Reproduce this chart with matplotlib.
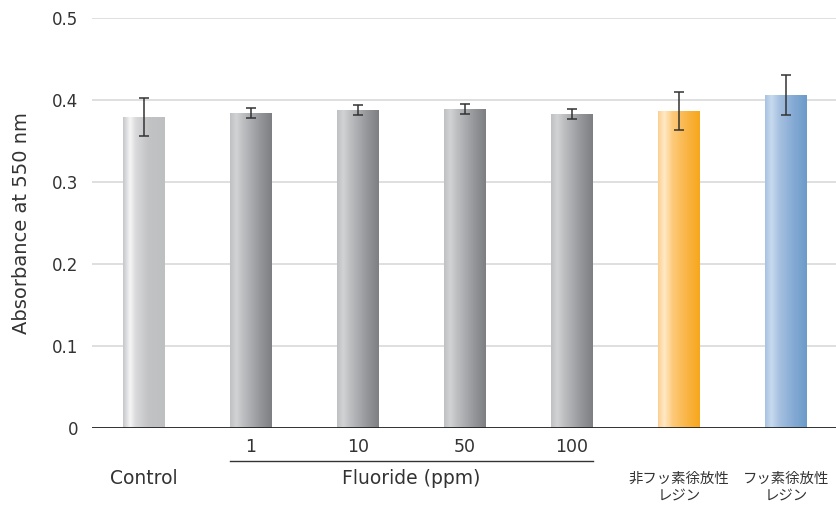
import matplotlib
matplotlib.use("Agg")
import matplotlib.pyplot as plt
import numpy as np
from matplotlib.colors import LinearSegmentedColormap

plt.rcParams['font.family'] = ['DejaVu Sans', 'Noto Sans CJK JP']

categories = ["Control", "1", "10", "50", "100", "非フッ素徐放性\nレジン", "フッ素徐放性\nレジン"]
values = [0.379, 0.384, 0.388, 0.389, 0.383, 0.387, 0.406]
errors = [0.023, 0.006, 0.006, 0.006, 0.006, 0.023, 0.024]
yticks = [0, 0.1, 0.2, 0.3, 0.4, 0.5]
ytick_labels = ["0", "0.1", "0.2", "0.3", "0.4", "0.5"]
group_label = "Fluoride (ppm)"
ylabel = "Absorbance at 550 nm"

# gradient stops (position, color) per bar style
grad_control = [(0, "#c6c7c9"), (0.08, "#dcdcde"), (0.17, "#f6f6f6"), (0.3, "#dadadc"), (0.6, "#c2c3c5"), (1, "#bebfc1")]
grad_gray = [(0, "#bfc0c2"), (0.15, "#d2d3d5"), (0.3, "#bfc0c2"), (0.7, "#97989c"), (1, "#7e7f83")]
grad_orange = [(0, "#fccf92"), (0.15, "#ffe9c6"), (0.35, "#fdc97a"), (0.7, "#f9b443"), (1, "#f6a71c")]
grad_blue = [(0, "#a9c2e1"), (0.15, "#c8daef"), (0.35, "#a5c0e0"), (0.7, "#83a9d3"), (1, "#6b9bc9")]
styles = [grad_control, grad_gray, grad_gray, grad_gray, grad_gray, grad_orange, grad_blue]

W, H = 836, 509
fig = plt.figure(figsize=(W / 100, H / 100), dpi=100)
ax = fig.add_axes([92 / W, (H - 428) / H, (836 - 92) / W, (428 - 18) / H])

x = np.arange(len(categories))
width = 0.39
ax.set_xlim(-0.486, 6.467)
ax.set_ylim(0, 0.5)

for t in yticks[1:]:
    ax.axhline(t, color="#dcdcdc", lw=1.3, zorder=0)

bars = ax.bar(x, values, width=width, color="none", edgecolor="none", zorder=2)
grad = np.linspace(0, 1, 256).reshape(1, -1)
for b, st in zip(bars, styles):
    cmap = LinearSegmentedColormap.from_list("g", st)
    x0, w, h = b.get_x(), b.get_width(), b.get_height()
    im = ax.imshow(grad, cmap=cmap, aspect="auto", extent=[x0, x0 + w, 0, h], zorder=2,
                   interpolation="bilinear")
    im.set_clip_path(b)

ax.errorbar(x, values, yerr=errors, fmt="none", ecolor="#333333", elinewidth=1.1,
            capsize=3.5, capthick=1.1, zorder=3)

ax.axhline(0, color="#222222", lw=1.3, zorder=4)

for s in ax.spines.values():
    s.set_visible(False)
ax.set_yticks(yticks)
ax.set_yticklabels(ytick_labels, fontsize=12, color="#333333")
ax.tick_params(axis="y", length=0, pad=10)
ax.set_xticks([])
ax.set_ylabel(ylabel, fontsize=14, color="#333333", labelpad=15)

def ypix(p):
    # convert pixel row to data y (below axes)
    return (428 - p) / 820.0

tc = "#333333"
for i in range(1, 5):
    ax.text(x[i], ypix(447), categories[i], ha="center", va="center", fontsize=12.5, color=tc, clip_on=False)
ax.text(x[0], ypix(478), categories[0], ha="center", va="center", fontsize=13.5, color=tc, clip_on=False)
ax.plot([x[1] - width / 2, x[4] + width / 2], [ypix(461), ypix(461)], color="#333333", lw=1.0, clip_on=False)
ax.text((x[1] + x[4]) / 2, ypix(478), group_label, ha="center", va="center", fontsize=13.5, color=tc, clip_on=False)
for i in (5, 6):
    ax.text(x[i], ypix(487), categories[i], ha="center", va="center", fontsize=10.4, color=tc,
            linespacing=1.25, clip_on=False, family=['Noto Sans CJK JP', 'DejaVu Sans'])

fig.savefig("out.png", dpi=100)
